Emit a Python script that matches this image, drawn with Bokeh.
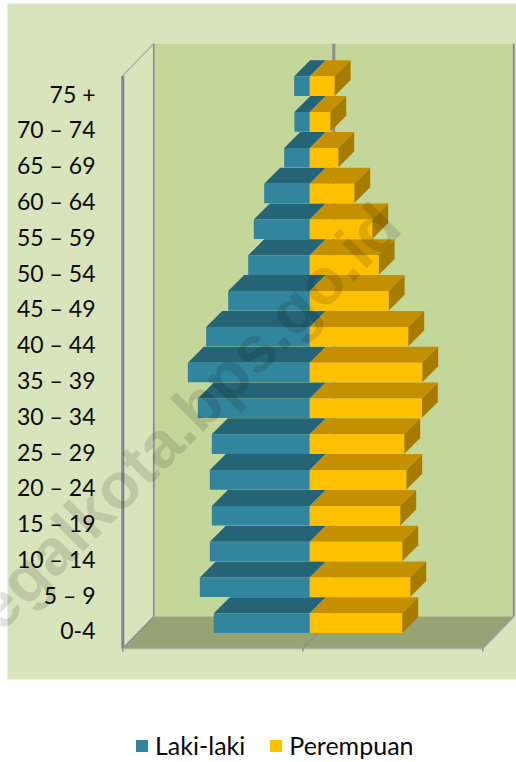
from bokeh.plotting import figure
from bokeh.models import Legend, LegendItem, ColumnDataSource, Range1d
from bokeh.core.properties import value
from bokeh.embed import file_html
from bokeh.resources import INLINE

categories = ["0-4", "5 – 9", "10 – 14", "15 – 19", "20 – 24", "25 – 29", "30 – 34", "35 – 39",
              "40 – 44", "45 – 49", "50 – 54", "55 – 59", "60 – 64", "65 – 69", "70 – 74", "75 +"]
laki_laki = [4.80, 5.50, 5.00, 4.90, 5.00, 4.90, 5.60, 6.10, 5.18, 4.08, 3.08, 2.80, 2.28, 1.28, 0.77, 0.78]
perempuan = [4.62, 5.02, 4.62, 4.52, 4.82, 4.72, 5.60, 5.62, 4.92, 3.94, 3.44, 3.12, 2.22, 1.42, 1.02, 1.24]
series_names = ["Laki-laki", "Perempuan"]
watermark = "tegalkota.bps.go.id"

W, H = 516, 762
PX_X = 20.0            # pixels per value unit
PX_Y = 35.8            # pixels per category band
X0_PX, Y0_PX = 302.3, 630.1   # figure pixels of value 0 / first band on the front plane
AX_MIN, AX_MAX = -9.0, 9.0
BAND_LO, BAND_HI = -0.5, 15.5


def dxv(px):
    return px / PX_X


def dyv(px):
    return px / PX_Y


def fx(px):
    return (px - X0_PX) / PX_X


def fy(px):
    return (Y0_PX - px) / PX_Y


p = figure(width=W, height=H, output_backend="svg", toolbar_location=None,
           x_range=Range1d(fx(0), fx(W)), y_range=Range1d(fy(H), fy(0)),
           x_axis_type="linear", min_border=0, outline_line_color=None)
p.axis.visible = False
p.grid.visible = False
p.background_fill_color = "#FFFFFF"

# Chart area background
p.quad(left=[fx(7)], right=[fx(W + 1)], top=[fy(3)], bottom=[fy(679)],
       fill_color="#D8E4BC", line_color=None)

WALL_DX, WALL_DY = dxv(31), dyv(32)
GRAY = "#8E8E8E"
# Back wall
p.quad(left=[AX_MIN + WALL_DX], right=[AX_MAX + WALL_DX], bottom=[BAND_LO + WALL_DY], top=[BAND_HI + WALL_DY],
       fill_color="#C4D79B", line_color=None)
# Floor
p.patch([AX_MIN, AX_MAX, AX_MAX + WALL_DX, AX_MIN + WALL_DX],
        [BAND_LO, BAND_LO, BAND_LO + WALL_DY, BAND_LO + WALL_DY],
        fill_color="#95A375", line_color=None)
# Side wall
p.patch([AX_MIN, AX_MIN + WALL_DX, AX_MIN + WALL_DX, AX_MIN],
        [BAND_LO, BAND_LO + WALL_DY, BAND_HI + WALL_DY, BAND_HI],
        fill_color="#D8E4BC", line_color=None)
# Structural lines
p.line([AX_MIN, AX_MIN], [BAND_LO, BAND_HI], line_color="#868686", line_width=3)
p.line([AX_MIN + WALL_DX] * 2, [BAND_LO + WALL_DY, BAND_HI + WALL_DY], line_color=GRAY, line_width=1.8)
p.line([AX_MAX + WALL_DX] * 2, [BAND_LO + WALL_DY, BAND_HI + WALL_DY], line_color=GRAY, line_width=2)
p.line([AX_MIN, AX_MIN + WALL_DX], [BAND_HI, BAND_HI + WALL_DY], line_color="#A6A6A6", line_width=1.2)
p.line([AX_MIN, AX_MIN + WALL_DX], [BAND_LO, BAND_LO + WALL_DY], line_color=GRAY, line_width=1.5)
p.line([AX_MAX, AX_MAX + WALL_DX], [BAND_LO, BAND_LO + WALL_DY], line_color="#A0A0A0", line_width=1.5)
p.line([AX_MIN, AX_MAX], [BAND_LO, BAND_LO], line_color="#A9B29A", line_width=1.5)
p.line([0, WALL_DX], [BAND_LO, BAND_LO + WALL_DY], line_color=GRAY, line_width=1.5)
p.line([WALL_DX, WALL_DX], [BAND_LO + WALL_DY, BAND_HI + WALL_DY], line_color=GRAY, line_width=3)
for tick in (AX_MIN, 0, AX_MAX):
    p.line([tick, tick], [BAND_LO, BAND_LO - dyv(3)], line_color=GRAY, line_width=1.5)

# Bars
B_DX, B_DY = dxv(7), dyv(7.5)
D_X, D_Y = dxv(16), dyv(16)
HALF = dyv(9.8)
for i in range(len(categories) - 1, -1, -1):
    yb = i + B_DY - HALF
    yt = i + B_DY + HALF
    m, f = laki_laki[i], perempuan[i]
    x0 = B_DX
    # male top
    p.patch([x0 - m, x0, x0 + D_X, x0 - m + D_X], [yt, yt, yt + D_Y, yt + D_Y],
            fill_color="#256376", line_color=None)
    # female top
    p.patch([x0, x0 + f, x0 + f + D_X, x0 + D_X], [yt, yt, yt + D_Y, yt + D_Y],
            fill_color="#C49000", line_color=None)
    # female side
    p.patch([x0 + f, x0 + f + D_X, x0 + f + D_X, x0 + f], [yb, yb + D_Y, yt + D_Y, yt],
            fill_color="#A67C00", line_color=None)

src = ColumnDataSource(dict(
    y=[i + B_DY for i in range(len(categories))],
    m=[B_DX - v for v in laki_laki],
    f=[B_DX + v for v in perempuan],
    c=[B_DX] * len(categories),
))
r_m = p.hbar(y="y", left="m", right="c", height=2 * HALF, source=src, fill_color="#31859C", line_color=None)
r_f = p.hbar(y="y", left="c", right="f", height=2 * HALF, source=src, fill_color="#FFC000", line_color=None)

# Category labels
p.text(x=[fx(95)] * len(categories), y=list(range(len(categories))), text=categories,
       text_align="right", text_baseline="middle", text_color="#0A0A0A",
       text_font=value("Lato"), text_font_size="23px")

# Watermark
p.text(x=[fx(-31)], y=[fy(633)], text=[watermark], angle=0.785, text_align="left", text_baseline="alphabetic",
       text_color="#000000", text_alpha=0.12, text_font=value("Liberation Sans"),
       text_font_style="bold", text_font_size="65px")

legend = Legend(items=[LegendItem(label=series_names[0], renderers=[r_m]),
                       LegendItem(label=series_names[1], renderers=[r_f])],
                orientation="horizontal", location=(134, 2), glyph_width=15, glyph_height=15,
                spacing=23, label_standoff=6, padding=0, margin=0,
                background_fill_alpha=0, border_line_color=None,
                label_text_font="Lato", label_text_font_size="25px", label_text_color="#0A0A0A")
p.add_layout(legend, "center")

open("out.html", "w").write(file_html(p, INLINE))
